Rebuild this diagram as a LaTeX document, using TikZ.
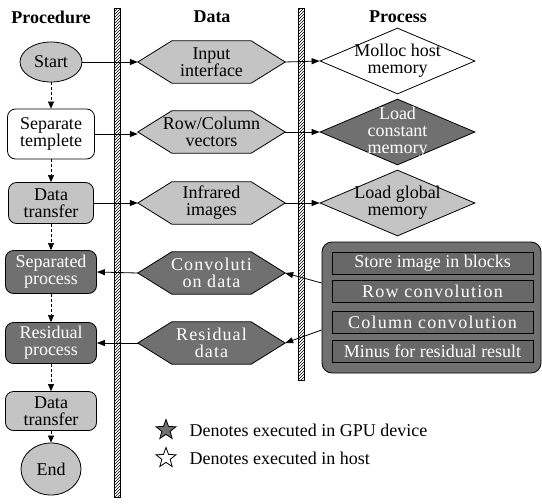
\documentclass[tikz,border=0pt]{standalone}
\usepackage{fontspec}
\setmainfont{Liberation Serif}
\newfontfamily\tnr{Liberation Serif}
\usetikzlibrary{arrows.meta,patterns,shapes.geometric}
\definecolor{lightg}{RGB}{196,196,196}
\definecolor{darkg}{RGB}{112,112,112}
\definecolor{innerg}{RGB}{104,104,104}
\newcommand\hexa[5]{% name, position, fill, text colour, text
  \node[hexbox] (#1) at (#2) {};
  \filldraw[fill=#3, line width=0.8pt] (#1.west) -- ([xshift=34pt]#1.north west) -- ([xshift=-34pt]#1.north east)
    -- (#1.east) -- ([xshift=-34pt]#1.south east) -- ([xshift=34pt]#1.south west) -- cycle;
  \node[lbl, text=#4] at (#1) {#5};
}
\begin{document}
\begin{tikzpicture}[x=1pt,y=-1pt,
  every node/.style={font=\tnr\fontsize{18}{17}\selectfont},
  lbl/.style={align=center, inner sep=0pt},
  proc/.style={draw, rounded corners=8pt, align=center, inner sep=0pt, line width=0.8pt},
  ell/.style={draw, ellipse, fill=lightg, inner sep=0pt, line width=0.8pt},
  hexbox/.style={inner sep=0pt, minimum width=147pt, minimum height=42pt},
  diam/.style={draw, diamond, inner sep=0pt, minimum width=155pt, minimum height=66pt, line width=0.8pt},
  flow/.style={densely dashed, line width=0.6pt, -{Triangle[length=7pt,width=6pt]}},
  link/.style={line width=0.8pt, -{Triangle[length=8pt,width=6pt]}},
  bar/.style={draw, pattern=north east lines, line width=0.8pt},
  head/.style={font=\tnr\fontsize{18}{18}\selectfont\bfseries},
  inbox/.style={draw, fill=innerg, text=white, inner sep=0pt, minimum width=201pt, minimum height=22pt, line width=0.8pt},
  spaced/.style={font=\tnr\fontsize{18}{17}\selectfont\addfontfeatures{LetterSpace=7}}
]
\useasboundingbox (0,0) rectangle (542,504);

% headers
\node[head] (h1) at (51,17) {Procedure};
\node[head] (h2) at (212,17) {Data};
\node[head] (h3) at (398,17) {Process};

% swimlane bars
\draw[bar] (114,8) rectangle (120,497);
\draw[bar] (298,8) rectangle (304,380);

% procedure column
\node[ell, minimum width=62pt, minimum height=40pt] (start) at (51,62) {Start};
\node[proc, fill=white, minimum width=87pt, minimum height=50pt] (sep) at (51,134) {Separate\\templete};
\node[proc, fill=lightg, minimum width=85pt, minimum height=41pt] (dt1) at (51,203) {Data\\transfer};
\node[proc, fill=darkg, text=white, minimum width=91pt, minimum height=43pt] (spr) at (51,272) {Separated\\process};
\node[proc, fill=darkg, text=white, minimum width=91pt, minimum height=41pt] (rpr) at (51,343) {Residual\\process};
\node[proc, fill=lightg, minimum width=91pt, minimum height=39pt] (dt2) at (51,411) {Data\\transfer};
\node[ell, minimum width=60pt, minimum height=52pt] (end) at (51,469) {End};

\draw[flow] (start) -- (sep);
\draw[flow] (sep) -- (dt1);
\draw[flow] (dt1) -- (spr);
\draw[flow] (spr) -- (rpr);
\draw[flow] (rpr) -- (dt2);
\draw[flow] (dt2) -- (end);

% data column
\hexa{d1}{211.5,62}{lightg}{black}{Input\\interface}
\hexa{d2}{211.5,132}{lightg}{black}{Row/Column\\vectors}
\hexa{d3}{211.5,203}{lightg}{black}{Infrared\\images}
\hexa{d4}{211.5,273}{darkg}{white}{\addfontfeatures{LetterSpace=6}Convoluti\\\addfontfeatures{LetterSpace=6}on data}
\hexa{d5}{211.5,343}{darkg}{white}{\addfontfeatures{LetterSpace=6}Residual\\\addfontfeatures{LetterSpace=6}data}

% process column
\node[diam, fill=white] (p1) at (397.5,61) {};
\node[lbl] at (p1) {Molloc host\\memory};
\node[diam, fill=darkg] (p2) at (397.5,132) {};
\node[lbl, text=white] at (p2) {Load\\constant\\memory};
\node[diam, fill=lightg] (p3) at (397.5,203) {};
\node[lbl] at (p3) {Load global\\memory};

% GPU block
\node[draw, fill=darkg, rounded corners=10pt, minimum width=219pt, minimum height=131pt, line width=0.8pt] (big) at (431.5,307.5) {};
\node[inbox] (b1) at (432.5,263) {Store image in blocks};
\node[inbox, spaced] (b2) at (432.5,291.5) {Row convolution};
\node[inbox, spaced] (b3) at (432.5,322) {Column convolution};
\node[inbox] (b4) at (432.5,351.5) {Minus for residual result};

% connectors
\draw[link] (start.east) -- (d1.west);
\draw[link] (sep.east) -- (sep.east -| d2.west);
\draw[link] (dt1.east) -- (d3.west);
\draw[link] (d1.east) -- (p1.west);
\draw[link] (d2.east) -- (p2.west);
\draw[link] (d3.east) -- (p3.west);
\draw[link] (d4.west) -- (spr.east);
\draw[link] (d5.west) -- (rpr.east);
\coordinate (c1) at ([yshift=24.5pt]big.west);
\coordinate (c2) at ([yshift=-22.5pt]big.west);
\draw[link] (c1) -- (d4.east);
\draw[link] (c2) -- (d5.east);

% legend
\node[star, star points=5, star point ratio=2.4, minimum size=21pt, inner sep=0pt, draw, fill=darkg, line width=0.8pt] (s1) at (166,430) {};
\node[anchor=west] (t1) at (186,430) {Denotes executed in GPU device};
\node[star, star points=5, star point ratio=2.4, minimum size=21pt, inner sep=0pt, draw, fill=white, line width=0.8pt] (s2) at (166,458) {};
\node[anchor=west] (t2) at (186,458) {Denotes executed in host};
\end{tikzpicture}
\end{document}
